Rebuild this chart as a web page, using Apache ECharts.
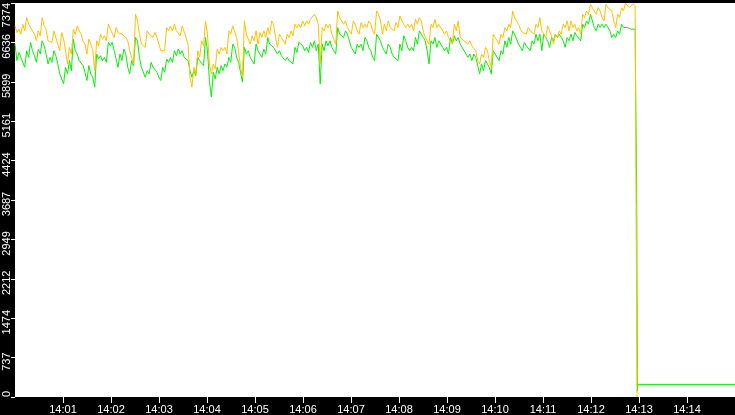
<!DOCTYPE html>
<html>
<head>
<meta charset="utf-8">
<script src="https://cdn.jsdelivr.net/npm/echarts@6/dist/echarts.min.js"></script>
<style>
  html, body { margin: 0; padding: 0; background: #000; }
  #main { width: 735px; height: 415px; }
</style>
</head>
<body>
<div id="main"></div>
<script>
// window starts at 14:00 and is 15 minutes wide
var startTime = new Date(2024, 0, 1, 14, 0, 0).getTime();
var endTime = startTime + 15 * 60000;
var sampleStep = 2430; // ms between samples

var yTickLabels = ['0', '737', '1474', '2212', '2949', '3687', '4424', '5161', '5899', '6636', '7374'];
var xTickLabels = ['14:01', '14:02', '14:03', '14:04', '14:05', '14:06', '14:07',
                   '14:08', '14:09', '14:10', '14:11', '14:12', '14:13', '14:14'];

// orange series (high / low of each few seconds)
var orangeValues = [
  6946, 6822, 6884, 6791, 6977, 6853, 7101, 6977, 6977, 6853, 6791, 6667, 6853, 6760, 7101, 6946, 6884, 6667,
  6698, 6636, 6853, 6729, 6605, 6481, 6822, 6698, 6481, 6233, 6543, 6419, 6884, 6791, 6946, 6853, 6791, 6667,
  6605, 6419, 6698, 6605, 6481, 6109, 6667, 6574, 6791, 6698, 6760, 6667, 6977, 6884, 6884, 6729, 6915, 6822,

  6853, 6791, 6822, 6729, 6667, 6481, 6357, 6233, 7163, 7039, 6791, 6605, 6605, 6543, 6853, 6791, 6791, 6729,
  6822, 6729, 6605, 6481, 6512, 6481, 6915, 6853, 6946, 6853, 6977, 6853, 6853, 6760, 6946, 6915, 6729, 6605,
  5985, 5799, 6171, 6047, 6481, 6357, 6667, 6574, 7039, 6791, 6233, 6047, 6233, 6140, 6512, 6419, 6543, 6481,

  6543, 6419, 6853, 6791, 6946, 6915, 6729, 6481, 6171, 5985, 7039, 6791, 6791, 6605, 6760, 6667, 6853, 6605,
  6822, 6729, 6853, 6729, 6915, 6791, 7039, 6977, 6729, 6543, 6791, 6729, 6729, 6605, 6791, 6729, 6853, 6760,
  6977, 6915, 6977, 6915, 7039, 6946, 7039, 6977, 7070, 7039, 7163, 7101, 6977, 6233, 6915, 6853, 6977, 6915,

  6977, 6791, 6791, 6605, 7225, 7101, 7039, 6977, 7039, 6915, 6853, 6791, 7039, 6977, 6853, 6791, 7008, 6915,
  6977, 6915, 7039, 6977, 6853, 6791, 7225, 7163, 7039, 6791, 6977, 6853, 7039, 6915, 6946, 6853, 7008, 6915,
  7132, 7039, 7039, 6915, 6977, 6915, 6977, 6853, 7070, 6977, 7101, 7039, 6853, 6729, 6667, 6605, 6977, 6915,

  7070, 6915, 6977, 6915, 6946, 6791, 6853, 6729, 6729, 6605, 6977, 6853, 7039, 6729, 6729, 6667, 6667, 6605,
  6667, 6574, 6605, 6481, 6295, 6233, 6419, 6357, 6543, 6481, 6295, 6171, 6791, 6729, 6667, 6605, 6791, 6729,
  6915, 6853, 6977, 6915, 7225, 7101, 7039, 6977, 6884, 6822, 6853, 6791, 6915, 6853, 6853, 6791, 6977, 6915,

  7101, 6853, 6853, 6729, 6946, 6853, 6760, 6605, 6791, 6729, 6853, 6791, 6977, 6915, 7039, 6853, 7039, 6915,
  6977, 6853, 6915, 6791, 7163, 7101, 7225, 7163, 7349, 7287, 7256, 7163, 7287, 7225, 7101, 7039, 7349, 7287,
  7287, 7225, 7039, 6915, 7163, 7101, 7287, 7225, 7372, 7350, 7287, 7256, 7360, 7318
];
// green series (high / low of each few seconds)
var greenValues = [
  6605, 6295, 6450, 6357, 6357, 6171, 6481, 6357, 6636, 6481, 6388, 6264, 6512, 6419, 6667, 6574, 6419, 6233,
  6357, 6264, 6481, 6388, 6233, 6047, 6016, 5861, 6171, 6047, 6295, 6109, 6698, 6481, 6419, 6295, 6326, 6202,
  6078, 5923, 6202, 6047, 5985, 5799, 6419, 6326, 6388, 6295, 6357, 6264, 6636, 6574, 6636, 6481, 6481, 6171,

  6419, 6295, 6512, 6419, 6171, 6047, 6295, 6202, 6729, 6667, 6357, 6171, 6171, 5985, 6109, 6047, 6264, 6171,
  6202, 6078, 5985, 5923, 6171, 6078, 6326, 6264, 6357, 6264, 6481, 6388, 6512, 6419, 6481, 6357, 6357, 6295,
  6109, 5985, 6109, 6016, 6357, 6295, 6295, 6202, 6729, 6481, 5923, 5613, 6078, 5954, 6171, 6047, 6202, 6109,

  6233, 6171, 6357, 6264, 6605, 6543, 6357, 6264, 6078, 5892, 6543, 6419, 6481, 6357, 6295, 6233, 6605, 6481,
  6450, 6357, 6512, 6419, 6729, 6605, 6636, 6543, 6512, 6419, 6481, 6388, 6419, 6295, 6357, 6295, 6326, 6233,
  6543, 6450, 6636, 6605, 6574, 6481, 6543, 6450, 6636, 6543, 6667, 6481, 6605, 5861, 6605, 6481, 6667, 6574,

  6667, 6543, 6481, 6419, 6915, 6791, 6791, 6729, 6853, 6791, 6667, 6543, 6543, 6419, 6605, 6543, 6605, 6481,
  6729, 6667, 6543, 6481, 6357, 6295, 6791, 6729, 6667, 6543, 6481, 6419, 6605, 6543, 6419, 6357, 6357, 6295,
  6605, 6481, 6760, 6667, 6543, 6481, 6543, 6481, 6729, 6605, 6853, 6791, 6729, 6667, 6481, 6233, 6667, 6605,

  6729, 6543, 6667, 6605, 6543, 6481, 6543, 6419, 6729, 6605, 6760, 6667, 6729, 6605, 6574, 6481, 6481, 6357,
  6419, 6295, 6419, 6357, 6202, 6047, 6233, 6109, 6295, 6233, 6171, 6047, 6481, 6419, 6419, 6295, 6481, 6419,
  6667, 6543, 6729, 6605, 6853, 6791, 6791, 6605, 6543, 6481, 6636, 6574, 6574, 6481, 6667, 6605, 6791, 6667,

  6791, 6481, 6791, 6729, 6667, 6543, 6729, 6667, 6791, 6729, 6791, 6729, 6667, 6543, 6729, 6667, 6791, 6667,
  6822, 6760, 6791, 6667, 6977, 6915, 7039, 6977, 7163, 7039, 6915, 6853, 6977, 6915, 6977, 6915, 6977, 6915,
  6853, 6729, 6791, 6729, 6853, 6791, 6977, 6915, 6946, 6915, 6915, 6884, 6884, 6884
];
// the drop near 14:13 (seconds after 14:00)
var orangeTailSec = [776.5, 777.5];
var orangeTailValues = [7300, 0];
var greenTailSec = [776.5, 777.2, 778, 778.5, 900];
var greenTailValues = [6880, 3550, 110, 236, 236];

function toTime(label) {
  var p = label.split(':');
  return new Date(2024, 0, 1, +p[0], +p[1], 0).getTime();
}
var xTickTimes = xTickLabels.map(toTime);

function buildData(values, tailSec, tailValues) {
  var out = [];
  for (var i = 0; i < values.length; i++) {
    out.push([startTime + i * sampleStep, values[i]]);
  }
  for (var j = 0; j < tailSec.length; j++) {
    out.push([startTime + tailSec[j] * 1000, tailValues[j]]);
  }
  return out;
}

var labelFont = { color: '#fff', fontFamily: 'Liberation Sans', fontSize: 11 };

var myChart = echarts.init(document.getElementById('main'));

var option = {
  animation: false,
  backgroundColor: '#000',
  grid: { left: 15, right: 0, top: 0, bottom: 16, show: true, backgroundColor: '#fff', borderWidth: 0 },
  xAxis: {
    type: 'value',
    min: startTime,
    max: endTime,
    axisLine: { show: false },
    axisTick: { show: true, customValues: xTickTimes, length: 6, lineStyle: { color: '#fff' } },
    axisLabel: {
      customValues: xTickTimes,
      color: '#fff', fontFamily: 'Liberation Sans', fontSize: 11, margin: 7,
      formatter: function (v) {
        var k = xTickTimes.indexOf(v);
        return k >= 0 ? xTickLabels[k] : '';
      }
    },
    splitLine: { show: false }
  },
  yAxis: {
    type: 'value',
    min: 0,
    max: 7374,
    interval: 737.4,
    axisLine: { show: false },
    axisTick: { show: true, length: 4, lineStyle: { color: '#fff' } },
    axisLabel: {
      rotate: 90, color: '#fff', fontFamily: 'Liberation Sans', fontSize: 11, margin: 3,
      align: 'center',
      showMinLabel: true, showMaxLabel: true,
      alignMinLabel: 'left', alignMaxLabel: 'right',
      formatter: function (v) {
        var k = Math.round(v / 737.4);
        // top label sits flush with the top edge, the others hang a little below their tick
        return k === yTickLabels.length - 1 ? yTickLabels[k] : '{n|' + yTickLabels[k] + '}';
      },
      rich: {
        n: { color: '#fff', fontFamily: 'Liberation Sans', fontSize: 11, padding: [0, 8, 0, 0] }
      }
    },
    splitLine: { show: false }
  },
  series: [
    {
      name: 'green', type: 'line', showSymbol: false, symbol: 'none',
      lineStyle: { color: '#08ee08', width: 1 },
      data: buildData(greenValues, greenTailSec, greenTailValues)
    },
    {
      name: 'orange', type: 'line', showSymbol: false, symbol: 'none',
      lineStyle: { color: '#ffc000', width: 1 },
      data: buildData(orangeValues, orangeTailSec, orangeTailValues)
    }
  ]
};

myChart.setOption(option);
</script>
</body>
</html>
